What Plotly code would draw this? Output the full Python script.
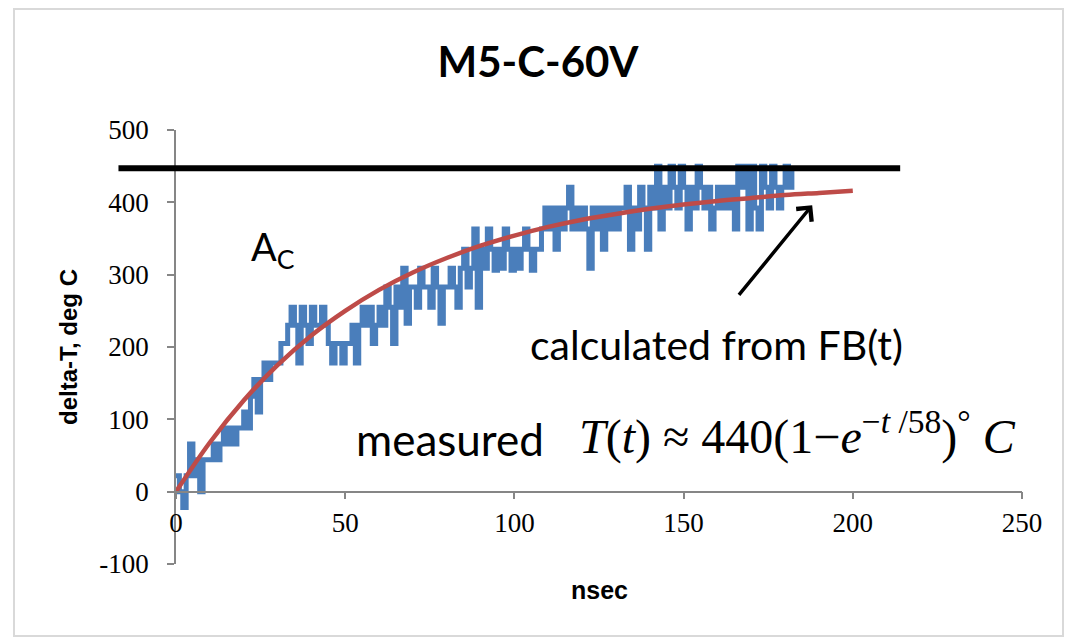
import plotly.graph_objects as go

# ---------------- data ----------------
t_meas = list(range(0, 183))  # nsec
dT_meas = [
    22, 0, -22, 22, 66, 22, 44, 0, 44, 44,
    44, 66, 44, 66, 88, 66, 88, 66, 88, 88,
    110, 88, 132, 155, 110, 155, 178, 155, 178, 178,
    178, 205, 205, 230, 255, 230, 178, 255, 230, 205,
    255, 230, 230, 255, 230, 205, 178, 205, 205, 178,
    205, 205, 230, 178, 230, 255, 230, 255, 205, 230,
    255, 230, 283, 255, 205, 283, 255, 309, 233, 283,
    283, 255, 309, 283, 283, 255, 309, 283, 233, 283,
    283, 309, 283, 255, 309, 335, 283, 309, 363, 255,
    335, 309, 363, 335, 306, 335, 309, 363, 335, 306,
    335, 309, 335, 363, 335, 306, 335, 335, 363, 392,
    363, 392, 335, 392, 363, 392, 421, 363, 392, 363,
    392, 363, 309, 392, 363, 392, 335, 392, 363, 392,
    363, 392, 392, 421, 335, 392, 363, 421, 392, 335,
    421, 392, 450, 363, 421, 392, 450, 421, 392, 450,
    421, 363, 421, 392, 450, 421, 392, 421, 363, 392,
    421, 392, 421, 392, 421, 363, 450, 421, 450, 363,
    450, 392, 363, 450, 421, 392, 450, 421, 392, 421,
    450, 421, 450,
]
t_calc = [0, 10, 20, 30, 40, 50, 60, 70, 80, 90, 100,
          110, 120, 130, 140, 150, 160, 170, 180, 190, 200]
dT_calc = [0, 68, 126, 175, 216, 250, 279, 303, 323, 340, 354,
           366, 376, 384, 391, 397, 402, 406, 410, 413, 416]

limit_level = 447          # black horizontal line (deg C)
limit_span = [-17, 214]    # nsec extent of the black line

x_ticks = [0, 50, 100, 150, 200, 250]
y_ticks = [-100, 0, 100, 200, 300, 400, 500]

# ---------------- layout geometry ----------------
W, H = 1076, 638
ML, MR, MT, MB = 176, 54, 130, 74
PW, PH = W - ML - MR, H - MT - MB
X_RANGE = [0, 250]
Y_RANGE = [-100, 500]


def px_x(px):
    return (px - ML) / PW


def px_y(py):
    return (H - MB - py) / PH


def data_to_paper_x(v):
    return (v - X_RANGE[0]) / (X_RANGE[1] - X_RANGE[0])


BLUE = "#4a7ebb"
RED = "#be4b48"
AXIS = "#868686"

fig = go.Figure()
fig.add_trace(go.Scatter(x=t_meas, y=dT_meas, mode="lines",
                         line=dict(color=BLUE, width=5, shape="hv"),
                         name="measured", showlegend=False))
fig.add_trace(go.Scatter(x=t_calc, y=dT_calc, mode="lines",
                         line=dict(color=RED, width=4.5, shape="spline"),
                         name="calculated from FB(t)", showlegend=False))

shapes = [
    # black limit line (extends into left margin, so x in paper units)
    dict(type="line", xref="paper", yref="y",
         x0=data_to_paper_x(limit_span[0]), x1=data_to_paper_x(limit_span[1]),
         y0=limit_level, y1=limit_level,
         line=dict(color="black", width=6), layer="above"),
    # outer chart border
    dict(type="rect", xref="paper", yref="paper",
         x0=px_x(14), x1=px_x(1063), y0=px_y(636), y1=px_y(9),
         line=dict(color="#d9d9d9", width=2), layer="below"),
]

annotations = [
    dict(x=21.5, y=335, xref="x", yref="y", text="A<sub>C</sub>",
         showarrow=False, xanchor="left", yanchor="middle",
         font=dict(family="Lato", size=38, color="black")),
    dict(x=104, y=203, xref="x", yref="y", text="calculated from FB(t)",
         showarrow=False, xanchor="left", yanchor="middle",
         font=dict(family="Lato", size=41, color="black")),
    dict(x=52.5, y=73, xref="x", yref="y", text="measured",
         showarrow=False, xanchor="left", yanchor="middle",
         font=dict(family="Lato", size=44, color="black")),
    dict(x=118.5, y=80, xref="x", yref="y",
         text="<i>T</i>(<i>t</i>) \u2248 440(1\u2212<i>e</i><sup>\u2212<i>t</i> /58</sup>)<sup>\u00b0</sup> <i>C</i>",
         showarrow=False, xanchor="left", yanchor="middle",
         font=dict(family="Liberation Serif", size=48, color="black")),
    # arrow pointing at the calculated curve
    dict(x=188, y=396, xref="x", yref="y", ax=166, ay=270,
         axref="x", ayref="y", text="", showarrow=True,
         arrowhead=4, arrowsize=1.1, arrowwidth=3.5, arrowcolor="black"),
    # axis titles
    dict(x=px_x(68), y=200, xref="paper", yref="y", text="<b>delta-T, deg C</b>",
         textangle=-90, showarrow=False, xanchor="center", yanchor="middle",
         font=dict(family="Liberation Sans", size=24, color="black")),
    dict(x=125, y=px_y(590), xref="x", yref="paper", text="<b>nsec</b>",
         showarrow=False, xanchor="center", yanchor="middle",
         font=dict(family="Liberation Sans", size=25, color="black")),
]

fig.update_layout(
    width=W, height=H,
    margin=dict(l=ML, r=MR, t=MT, b=MB),
    paper_bgcolor="white", plot_bgcolor="white",
    title=dict(text="<b>M5-C-60V</b>", x=0.5, xref="container",
               y=1 - 62 / H, yref="container", xanchor="center", yanchor="middle",
               font=dict(family="Lato", size=42, color="black")),
    shapes=shapes, annotations=annotations,
    showlegend=False,
)
fig.update_xaxes(range=X_RANGE, tickvals=x_ticks, ticktext=[str(v) for v in x_ticks],
                 showgrid=False, zeroline=False, showline=True, linecolor=AXIS, linewidth=1.5,
                 ticks="outside", ticklen=7, tickcolor=AXIS, tickwidth=1.5,
                 anchor="free", position=(0 - Y_RANGE[0]) / (Y_RANGE[1] - Y_RANGE[0]),
                 ticklabelstandoff=0,
                 tickfont=dict(family="Liberation Serif", size=27, color="black"))
fig.update_yaxes(range=Y_RANGE, tickvals=y_ticks, ticktext=[str(v) for v in y_ticks],
                 showgrid=False, zeroline=False, showline=True, linecolor=AXIS, linewidth=1.5,
                 ticks="outside", ticklen=7, tickcolor=AXIS, tickwidth=1.5,
                 ticklabelstandoff=13,
                 tickfont=dict(family="Liberation Serif", size=27, color="black"))

fig.write_html("out.html")
